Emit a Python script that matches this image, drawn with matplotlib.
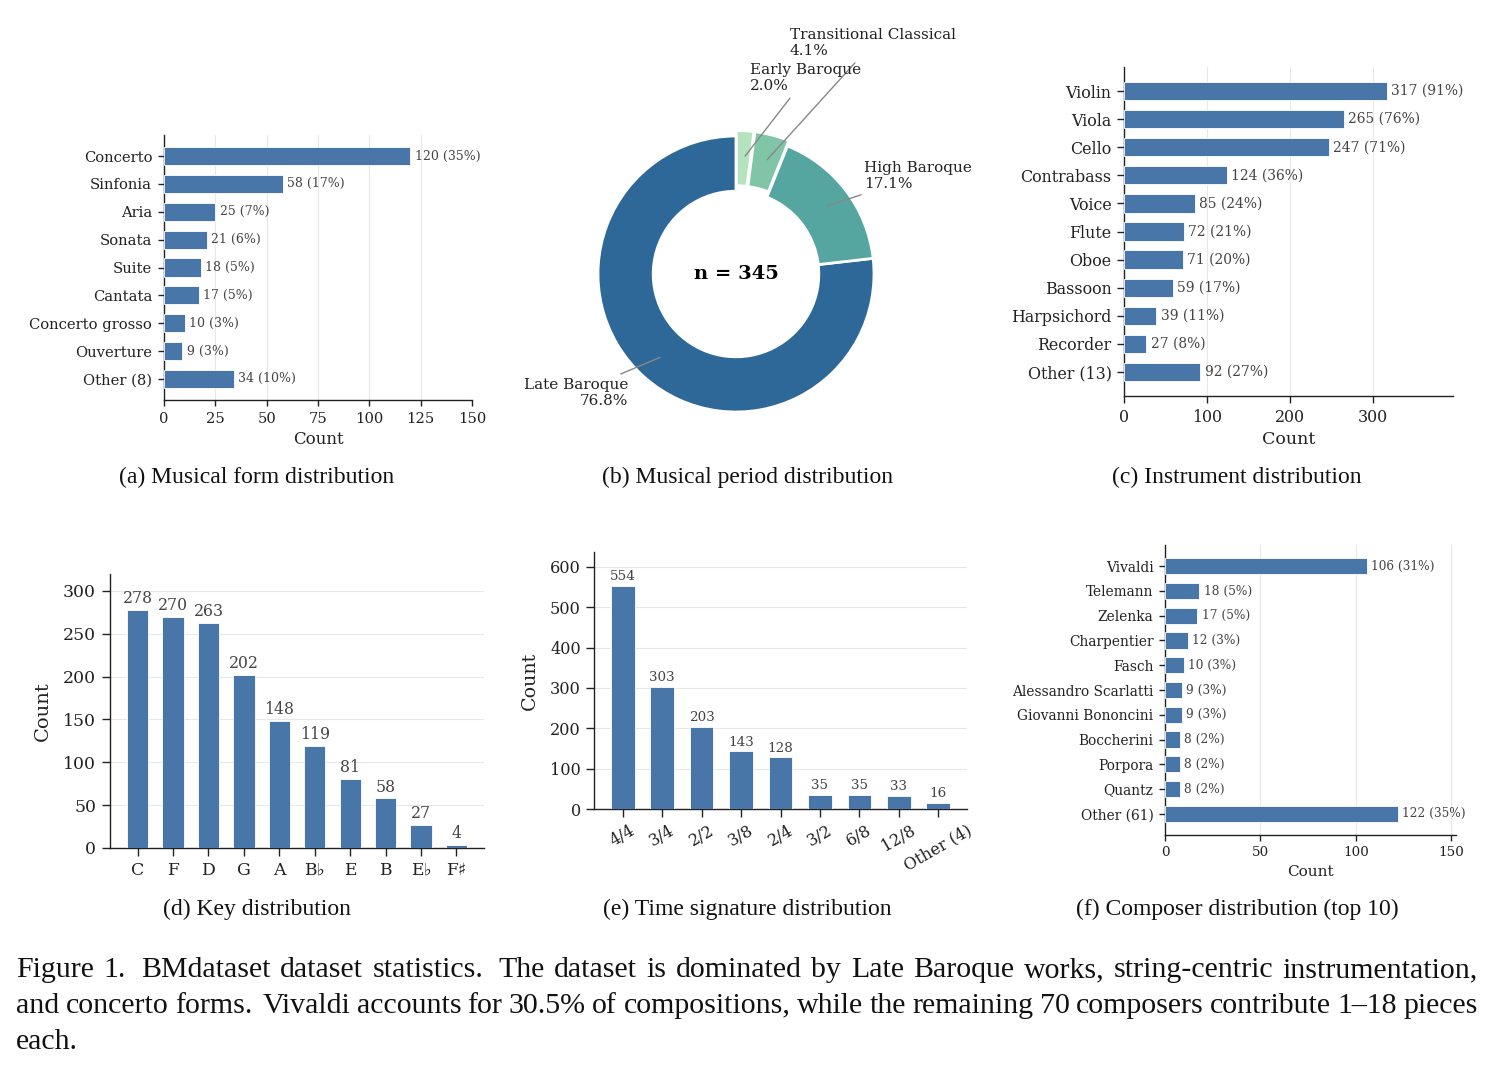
import numpy as np
import matplotlib
matplotlib.use("Agg")
import matplotlib.pyplot as plt

plt.rcParams['font.family'] = ['DejaVu Serif', 'DejaVu Sans']

# ---- data ----
forms = ["Concerto", "Sinfonia", "Aria", "Sonata", "Suite", "Cantata",
         "Concerto grosso", "Ouverture", "Other (8)"]
form_counts = [120, 58, 25, 21, 18, 17, 10, 9, 34]
form_pct = [35, 17, 7, 6, 5, 5, 3, 3, 10]

periods = ["Late Baroque", "High Baroque", "Transitional Classical", "Early Baroque"]
period_counts = [265, 59, 14, 7]

instruments = ["Violin", "Viola", "Cello", "Contrabass", "Voice", "Flute", "Oboe",
               "Bassoon", "Harpsichord", "Recorder", "Other (13)"]
instrument_counts = [317, 265, 247, 124, 85, 72, 71, 59, 39, 27, 92]
instrument_pct = [91, 76, 71, 36, 24, 21, 20, 17, 11, 8, 27]

keys = ["C", "F", "D", "G", "A", "B♭", "E", "B", "E♭", "F♯"]
key_counts = [278, 270, 263, 202, 148, 119, 81, 58, 27, 4]

meters = ["4/4", "3/4", "2/2", "3/8", "2/4", "3/2", "6/8", "12/8", "Other (4)"]
meter_counts = [554, 303, 203, 143, 128, 35, 35, 33, 16]

composers = ["Vivaldi", "Telemann", "Zelenka", "Charpentier", "Fasch",
             "Alessandro Scarlatti", "Giovanni Bononcini", "Boccherini",
             "Porpora", "Quantz", "Other (61)"]
composer_counts = [106, 18, 17, 12, 10, 9, 9, 8, 8, 8, 122]
composer_pct = [31, 5, 5, 3, 3, 3, 3, 2, 2, 2, 35]

subcaptions = ["(a) Musical form distribution", "(b) Musical period distribution",
               "(c) Instrument distribution", "(d) Key distribution",
               "(e) Time signature distribution", "(f) Composer distribution (top 10)"]

caption_lines = [
    "Figure 1.  BMdataset dataset statistics.  The dataset is dominated by Late Baroque works, string-centric instrumentation,",
    "and concerto forms. Vivaldi accounts for 30.5% of compositions, while the remaining 70 composers contribute 1–18 pieces",
    "each.",
]

BAR = '#4876a8'
PIE_COLORS = ['#2e6899', '#55a5a0', '#80c5a8', '#b5e3bd']
GRID = '#e8e8e8'
VAL = '#444444'

W, H = 1494, 1071
fig = plt.figure(figsize=(W / 100, H / 100), dpi=100)


def px_axes(left, top, right, bottom):
    return fig.add_axes([left / W, 1 - bottom / H, (right - left) / W, (bottom - top) / H])


def style(ax, tick_len):
    for s in ['top', 'right']:
        ax.spines[s].set_visible(False)
    for s in ['left', 'bottom']:
        ax.spines[s].set_linewidth(1.0)
        ax.spines[s].set_color('#222222')
    ax.tick_params(direction='out', length=tick_len, width=1.0, colors='#222222', pad=4)
    ax.set_axisbelow(True)


def hbar(ax, labels, counts, pct, xticks, tick_fs, val_fs, lab_fs, tick_len):
    y = np.arange(len(labels))
    ax.barh(y, counts, height=0.65, color=BAR, edgecolor='white', linewidth=0.6, zorder=3)
    ax.set_yticks(y, labels)
    ax.invert_yaxis()
    ax.set_xlim(0, max(counts) * 1.25)
    ax.set_xticks(xticks)
    for yi, c, p in zip(y, counts, pct):
        ax.annotate(f"{c} ({p}%)", (c, yi), xytext=(3, 0), textcoords='offset points',
                    va='center', ha='left', fontsize=val_fs, color=VAL)
    ax.grid(axis='x', color=GRID, lw=0.8)
    ax.set_xlabel('Count', fontsize=lab_fs, color='#222222')
    style(ax, tick_len)
    ax.tick_params(labelsize=tick_fs)


def vbar(ax, labels, counts, yticks, tick_fs, val_fs, lab_fs, tick_len, rot=0):
    x = np.arange(len(labels))
    ax.bar(x, counts, width=0.6, color=BAR, edgecolor='white', linewidth=0.6, zorder=3)
    ax.set_xticks(x, labels, rotation=rot, ha='center')
    ax.set_ylim(0, max(counts) * 1.15)
    ax.set_yticks(yticks)
    for xi, c in zip(x, counts):
        ax.annotate(str(c), (xi, c), xytext=(0, 2), textcoords='offset points',
                    ha='center', va='bottom', fontsize=val_fs, color=VAL)
    ax.grid(axis='y', color=GRID, lw=0.8)
    ax.set_ylabel('Count', fontsize=lab_fs, color='#222222', labelpad=8)
    style(ax, tick_len)
    ax.tick_params(labelsize=tick_fs)


# (a) forms
ax_a = px_axes(164, 135, 472, 400)
hbar(ax_a, forms, form_counts, form_pct, np.arange(0, 151, 25), 10.6, 9, 12, 4.5)

# (b) periods donut
ax_b = px_axes(563.5, 101.5, 908.5, 446.5)
total = sum(period_counts)
wedges, _ = ax_b.pie(period_counts, colors=PIE_COLORS, startangle=90, counterclock=True,
                     explode=[0, 0, 0.04, 0.04],
                     wedgeprops=dict(width=0.4, edgecolor='white', linewidth=2))
ax_b.set_xlim(-1.25, 1.25)
ax_b.set_ylim(-1.25, 1.25)
ax_b.text(0, 0, f"n = {total}", ha='center', va='center', fontsize=14, fontweight='bold')
label_pos = [(-0.783, -0.862, 'right'), (0.928, 0.71, 'left'),
             (0.391, 1.674, 'left'), (0.101, 1.42, 'left')]
for w, name, c, (tx, ty, ha) in zip(wedges, periods, period_counts, label_pos):
    ang = np.deg2rad((w.theta1 + w.theta2) / 2)
    cx, cy = w.center
    ax_b.annotate(f"{name}\n{c / total * 100:.1f}%",
                  xy=(cx + 0.8 * np.cos(ang), cy + 0.8 * np.sin(ang)),
                  xytext=(tx, ty), ha=ha, va='center', multialignment=ha,
                  fontsize=11, color='#222222', annotation_clip=False,
                  arrowprops=dict(arrowstyle='-', color='#888888', lw=1.0))

# (c) instruments
ax_c = px_axes(1124, 67, 1453, 396)
hbar(ax_c, instruments, instrument_counts, instrument_pct, [0, 100, 200, 300], 11.4, 10, 12.6, 5)

# (d) keys
ax_d = px_axes(110, 574, 484, 848)
vbar(ax_d, keys, key_counts, np.arange(0, 301, 50), 12.4, 11.3, 14, 6)

# (e) time signatures
ax_e = px_axes(594, 552, 967, 809)
vbar(ax_e, meters, meter_counts, np.arange(0, 601, 100), 11.6, 9.7, 13.7, 5.5, rot=30)

# (f) composers
ax_f = px_axes(1165, 545, 1456, 835)
hbar(ax_f, composers, composer_counts, composer_pct, [0, 50, 100, 150], 9.7, 8.7, 11, 4.2)
ax_f.tick_params(axis='y', labelsize=9.9)

# sub captions
sub_pos = [(257, 477), (747, 477), (1237, 477), (257, 909), (747, 909), (1237, 909)]
for txt, (x, y) in zip(subcaptions, sub_pos):
    fig.text(x / W, 1 - y / H, txt, ha='center', va='center', fontsize=17,
             family='Liberation Serif', color='#111111')

# justified caption
renderer = fig.canvas.get_renderer()
cap_fs = 21.5
x0, x1 = 16, 1478
baselines = [977, 1013, 1049]
for i, (line, yb) in enumerate(zip(caption_lines, baselines)):
    words = line.split()
    texts = [fig.text(0, 1 - yb / H, w_, fontsize=cap_fs, family='Liberation Serif',
                      va='baseline', ha='left', color='#111111') for w_ in words]
    widths = [t.get_window_extent(renderer).width for t in texts]
    if i < len(caption_lines) - 1:
        weights = [1.6 if w_.endswith('.') else 1.0 for w_ in words[:-1]]
        gap = ((x1 - x0) - sum(widths)) / sum(weights)
    else:
        weights = [1.0] * (len(words) - 1)
        gap = 6.5
    x = x0
    for j, (t, wd) in enumerate(zip(texts, widths)):
        t.set_x(x / W)
        if j < len(weights):
            x += wd + gap * weights[j]

fig.savefig('out.png', dpi=100)
